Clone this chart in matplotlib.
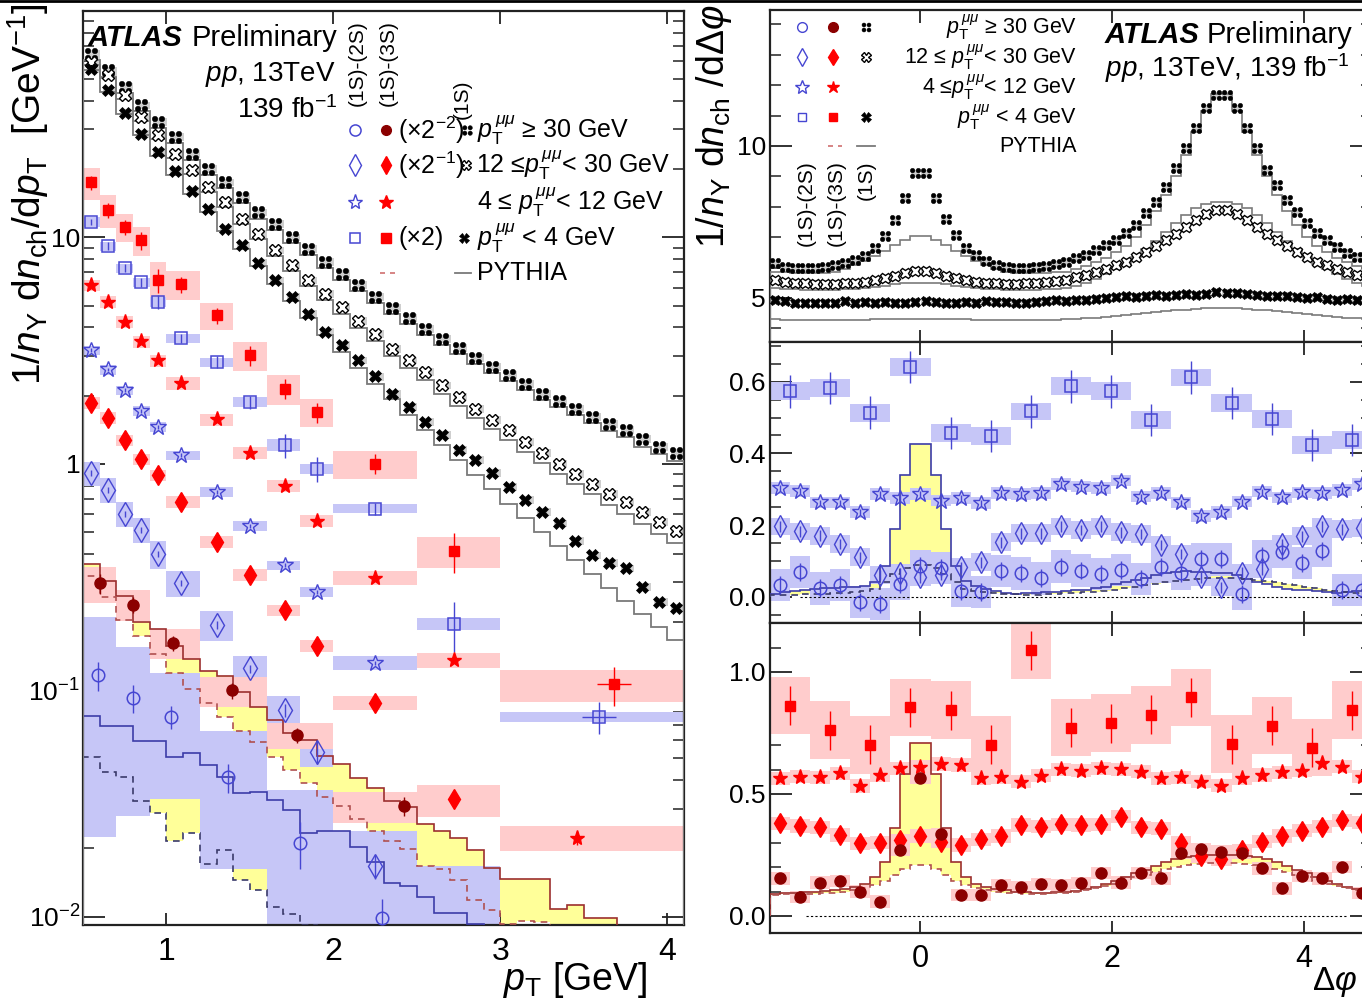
import numpy as np
import matplotlib
matplotlib.use('Agg')
import matplotlib.pyplot as plt
from matplotlib.path import Path
from matplotlib.lines import Line2D
from matplotlib.ticker import (FixedLocator, FixedFormatter, MultipleLocator,
                               NullFormatter, LogLocator, FormatStrFormatter)

plt.rcParams['font.family'] = ['Liberation Sans', 'DejaVu Sans']
plt.rcParams['mathtext.fontset'] = 'custom'
plt.rcParams['mathtext.rm'] = 'Liberation Sans'
plt.rcParams['mathtext.it'] = 'Liberation Sans:italic'
plt.rcParams['mathtext.bf'] = 'Liberation Sans:bold'

# ---------------- DATA: left panel (pT spectra) ----------------
pt_edges_fine = np.linspace(0.5, 4.1, 37)
hash_pt = [64.7, 54.6, 46.1, 38.3, 32.3, 27.7, 23.4, 20.1, 17.5, 15.1, 12.9, 11.5, 10.0, 8.92,
           7.78, 6.91, 6.14, 5.45, 4.87, 4.41, 3.95, 3.57, 3.26, 2.94, 2.68, 2.46, 2.26, 2.04,
           1.89, 1.75, 1.61, 1.50, 1.41, 1.29, 1.19, 1.12]
cross_pt = [59.4, 51.9, 42.4, 34.0, 28.2, 23.4, 19.9, 16.7, 14.3, 12.1, 10.4, 8.76, 7.52, 6.46,
            5.64, 4.92, 4.27, 3.76, 3.23, 2.86, 2.54, 2.22, 1.97, 1.75, 1.56, 1.41, 1.25, 1.12,
            1.00, 0.905, 0.818, 0.739, 0.678, 0.613, 0.553, 0.505]
bold_pt = [55.6, 44.6, 35.4, 28.7, 23.8, 19.6, 16.0, 13.3, 10.9, 9.22, 7.70, 6.46, 5.45, 4.60,
           3.82, 3.34, 2.86, 2.43, 2.04, 1.78, 1.53, 1.34, 1.15, 1.04, 0.911, 0.790, 0.690,
           0.613, 0.545, 0.456, 0.394, 0.365, 0.345, 0.286, 0.245, 0.230]
py_hash_pt = [60.8, 51.3, 43.3, 36.0, 30.4, 26.0, 22.0, 18.9, 16.5, 14.2, 12.1, 10.8, 9.4, 8.38,
              7.31, 6.5, 5.77, 5.12, 4.58, 4.15, 3.71, 3.36, 3.06, 2.76, 2.52, 2.31, 2.12, 1.92,
              1.78, 1.64, 1.51, 1.40, 1.31, 1.19, 1.10, 1.03]
py_cross_pt = [58.0, 50.4, 41.0, 32.8, 27.1, 22.4, 19.0, 15.9, 13.6, 11.5, 9.85, 8.27, 7.08, 6.07,
               5.28, 4.6, 3.98, 3.49, 2.99, 2.64, 2.34, 2.04, 1.8, 1.6, 1.42, 1.28, 1.13, 1.01,
               0.9, 0.812, 0.732, 0.66, 0.603, 0.543, 0.488, 0.445]
py_bold_pt = [55.0, 43.8, 35.0, 28.3, 23.0, 18.9, 15.6, 12.9, 10.7, 8.9, 7.45, 6.22, 5.22, 4.39,
              3.7, 3.13, 2.66, 2.26, 1.93, 1.65, 1.41, 1.21, 1.04, 0.895, 0.77, 0.665, 0.575,
              0.498, 0.432, 0.375, 0.326, 0.284, 0.248, 0.217, 0.19, 0.167]

pt_edges = [0.5, 0.6, 0.7, 0.8, 0.9, 1.0, 1.2, 1.4, 1.6, 1.8, 2.0, 2.5, 3.0, 4.5]
pt_mean = [0.55, 0.65, 0.75, 0.85, 0.95, 1.09, 1.30, 1.50, 1.71, 1.90, 2.25, 2.72]
sq_red_pt = [17.5, 13.2, 11.1, 9.70, 6.46, 6.20, 4.52, 3.01, 2.15, 1.69, 1.00, 0.411, 0.106]
sq_blue_pt = [11.68, 9.13, 7.30, 6.33, 5.18, 3.58, 2.81, 1.87, 1.21, 0.952, 0.634, 0.197, 0.0762]
st_red_pt = [6.14, 5.20, 4.23, 3.47, 2.86, 2.27, 1.57, 1.12, 0.796, 0.559, 0.313, 0.1357, 0.0223]
st_blue_pt = [3.17, 2.61, 2.11, 1.71, 1.45, 1.09, 0.751, 0.530, 0.356, 0.272, 0.132]
di_red_pt = [1.855, 1.593, 1.27, 1.047, 0.890, 0.678, 0.453, 0.323, 0.2255, 0.1564, 0.0882, 0.0329]
di_blue_pt = [0.911, 0.769, 0.603, 0.512, 0.398, 0.2977, 0.1936, 0.1247, 0.0816, 0.0534, 0.0167]
last_mean = {'sq_red': 3.68, 'sq_blue': 3.59, 'st_red': 3.46}

sq_red_syst = [0.16, 0.17, 0.14, 0.15, 0.2, 0.15, 0.14, 0.15, 0.15, 0.14, 0.14, 0.16, 0.16]
sq_blue_syst = [0.05, 0.05, 0.05, 0.05, 0.05, 0.05, 0.045, 0.05, 0.06, 0.05, 0.045, 0.06, 0.05]
st_red_syst = [0.06, 0.06, 0.06, 0.06, 0.06, 0.07, 0.06, 0.06, 0.06, 0.06, 0.07, 0.08, 0.13]
st_blue_syst = [0.05, 0.05, 0.05, 0.05, 0.05, 0.05, 0.05, 0.05, 0.05, 0.05, 0.07]
di_red_syst = [0.06, 0.06, 0.06, 0.06, 0.06, 0.06, 0.06, 0.06, 0.06, 0.06, 0.07, 0.16]
di_blue_syst = [0.12, 0.13, 0.13, 0.13, 0.14, 0.13, 0.15, 0.13, 0.15, 0.14, 0.10]
sq_red_stat = [0.07, 0.08, 0.08, 0.09, 0.12, 0.08, 0.08, 0.1, 0.1, 0.1, 0.1, 0.2, 0.2]
sq_blue_stat = [0.03, 0.04, 0.04, 0.05, 0.07, 0.05, 0.06, 0.07, 0.12, 0.13, 0.06, 0.25, 0.16]
st_red_stat = [0.02] * 12 + [0.07]
st_blue_stat = [0.02] * 11
di_red_stat = [0.02] * 12
di_blue_stat = [0.03, 0.03, 0.03, 0.03, 0.03, 0.03, 0.04, 0.04, 0.07, 0.12, 0.12]

ci_edges_red = [0.5, 0.7, 0.9, 1.2, 1.6, 2.0, 2.5]
ci_red_x = [0.60, 0.80, 1.04, 1.39, 1.78, 2.42]
ci_red_pt = [0.296, 0.239, 0.1617, 0.0997, 0.0633, 0.0308]
ci_red_syst = [0.054, 0.037, 0.025, 0.015, 0.0085, 0.0048]
ci_red_stat = [0.03, 0.02, 0.012, 0.008, 0.005, 0.003]
ci_edges_blue = [0.5, 0.7, 0.9, 1.2, 1.6, 2.0, 2.5, 3.0]
ci_blue_x = [0.59, 0.80, 1.03, 1.37, 1.80, 2.29, 2.75]
ci_blue_pt = [0.1165, 0.0919, 0.0762, 0.0412, 0.0212, 0.0099, 0.004]
ci_blue_syst = [0.094, 0.064, 0.043, 0.025, 0.015, 0.014, 0.0127]
ci_blue_stat = [0.017, 0.013, 0.009, 0.006, 0.005, 0.002, 0.002]

py_red_solid_pt = [0.36, 0.304, 0.26, 0.20, 0.186, 0.156, 0.137, 0.121, 0.115, 0.098, 0.084, 0.074,
                   0.065, 0.060, 0.0514, 0.0473, 0.041, 0.037, 0.0325, 0.0305, 0.0256, 0.024,
                   0.0223, 0.0197, 0.0164, 0.0147, 0.0147, 0.0147, 0.0108, 0.0112, 0.0099, 0.0099,
                   0.008, 0.008, 0.008, 0.008]
py_red_dash_pt = [0.32, 0.258, 0.204, 0.173, 0.1445, 0.119, 0.1016, 0.0874, 0.0762, 0.0661, 0.0592,
                  0.0508, 0.0442, 0.0389, 0.0337, 0.0307, 0.0269, 0.0238, 0.0215, 0.0198, 0.0167,
                  0.0162, 0.0145, 0.0118, 0.0107, 0.0093, 0.0096, 0.0095, 0.009, 0.008, 0.008,
                  0.008, 0.008, 0.008, 0.008, 0.008]
py_blue_solid_pt = [0.0767, 0.0694, 0.0694, 0.0597, 0.0597, 0.0508, 0.053, 0.0466, 0.0415, 0.035,
                    0.0355, 0.0327, 0.0295, 0.0233, 0.0238, 0.0238, 0.0203, 0.0175, 0.0141, 0.0136,
                    0.0122, 0.0104, 0.0104, 0.0093, 0.008, 0.008, 0.008, 0.008, 0.008, 0.008,
                    0.008, 0.008, 0.008, 0.008, 0.008, 0.008]
py_blue_dash_pt = [0.0508, 0.0435, 0.0415, 0.0325, 0.0286, 0.0215, 0.0233, 0.017, 0.0196, 0.0145,
                   0.0131, 0.011, 0.0103, 0.0092] + [0.008] * 22

# ---------------- DATA: right panels (delta phi) ----------------
hash_dphi = [6.14, 6.02, 5.99, 5.98, 5.98, 6.01, 6.07, 6.14, 6.24, 6.39, 6.63, 7.04, 7.58, 8.28,
             9.10, 9.10, 8.28, 7.59, 7.07, 6.63, 6.41, 6.23, 6.09, 6.03, 5.98, 5.98, 6.03, 6.05,
             6.12, 6.19,
             6.31, 6.41, 6.58, 6.74, 6.91, 7.13, 7.40, 7.79, 8.17, 8.66, 9.27, 9.92, 10.58, 11.24,
             11.68, 11.68, 11.24, 10.58, 9.92, 9.21, 8.72, 8.22, 7.84, 7.48, 7.15, 6.91, 6.69,
             6.49, 6.36, 6.25]
cross_dphi = [5.58, 5.53, 5.50, 5.48, 5.47, 5.47, 5.47, 5.48, 5.50, 5.53, 5.58, 5.65, 5.73, 5.82,
              5.90, 5.90, 5.82, 5.73, 5.65, 5.58, 5.53, 5.50, 5.48, 5.47, 5.47, 5.48, 5.50, 5.53,
              5.56, 5.60,
              5.68, 5.76, 5.85, 5.95, 6.07, 6.20, 6.35, 6.52, 6.70, 6.90, 7.10, 7.32, 7.55, 7.75,
              7.88, 7.88, 7.75, 7.55, 7.32, 7.10, 6.90, 6.70, 6.52, 6.35, 6.20, 6.07, 5.95, 5.85,
              5.76, 5.68]
bold_dphi = [4.95, 4.90, 4.82, 4.84, 4.83, 4.85, 4.84, 4.90, 4.83, 4.86, 4.84, 4.88, 4.85, 4.83,
             4.88, 4.90, 4.86, 4.84, 4.82, 4.88, 4.85, 4.90, 4.88, 4.86, 4.84, 4.85, 4.88, 4.90,
             4.92, 4.90, 4.93, 4.95, 4.98, 5.00, 5.02, 5.05, 5.04, 5.08, 5.10, 5.07, 5.10, 5.13,
             5.10, 5.12, 5.20, 5.18, 5.15, 5.12, 5.10, 5.06, 5.05, 5.08, 5.03, 5.00, 5.02, 4.98,
             4.95, 4.97, 4.93, 4.92]
py_hash_dphi = [5.87, 5.84, 5.82, 5.81, 5.81, 5.83, 5.87, 5.95, 6.07, 6.22, 6.38, 6.55, 6.74, 6.92,
                7.05, 7.05, 6.92, 6.74, 6.55, 6.38, 6.22, 6.07, 5.95, 5.87, 5.83, 5.81, 5.81, 5.82,
                5.84, 5.87,
                5.95, 6.05, 6.18, 6.33, 6.50, 6.72, 7.00, 7.40, 7.85, 8.40, 9.00, 9.70, 10.45, 11.15,
                11.72, 11.72, 11.15, 10.45, 9.70, 9.00, 8.40, 7.85, 7.40, 7.00, 6.72, 6.50, 6.33,
                6.18, 6.05, 5.95]
py_cross_dphi = [5.32, 5.30, 5.28, 5.27, 5.26, 5.26, 5.27, 5.28, 5.30, 5.33, 5.37, 5.41, 5.45, 5.48,
                 5.50, 5.50, 5.48, 5.45, 5.41, 5.37, 5.33, 5.30, 5.28, 5.27, 5.26, 5.26, 5.27, 5.28,
                 5.30, 5.34,
                 5.40, 5.50, 5.62, 5.78, 5.95, 6.13, 6.35, 6.60, 6.88, 7.17, 7.45, 7.72, 7.95, 8.10,
                 8.17, 8.17, 8.10, 7.95, 7.72, 7.45, 7.17, 6.88, 6.60, 6.35, 6.13, 5.95, 5.78, 5.62,
                 5.50, 5.40]
py_bold_dphi = [4.30, 4.29, 4.29, 4.28, 4.28, 4.28, 4.28, 4.28, 4.29, 4.29, 4.30, 4.30, 4.31, 4.31,
                4.32, 4.32, 4.31, 4.31, 4.30, 4.30, 4.29, 4.29, 4.28, 4.28, 4.28, 4.28, 4.28, 4.29,
                4.29, 4.30,
                4.31, 4.33, 4.35, 4.38, 4.41, 4.44, 4.47, 4.50, 4.53, 4.56, 4.59, 4.62, 4.64, 4.66,
                4.67, 4.67, 4.66, 4.64, 4.62, 4.59, 4.56, 4.53, 4.50, 4.47, 4.44, 4.41, 4.38, 4.35,
                4.33, 4.31]

sq_blue_dphi = [0.573, 0.582, 0.514, 0.641, 0.456, 0.449, 0.517, 0.587, 0.573, 0.493, 0.612, 0.540,
                0.495, 0.424, 0.438]
st_blue_dphi = [0.303, 0.295, 0.263, 0.263, 0.237, 0.286, 0.275, 0.287, 0.268, 0.275, 0.261, 0.289,
                0.287, 0.289, 0.314, 0.307, 0.304, 0.324, 0.279, 0.289, 0.263, 0.225, 0.237, 0.265,
                0.293, 0.277, 0.291, 0.289, 0.298, 0.315]
di_blue_dphi = [0.196, 0.182, 0.170, 0.147, 0.110, 0.0605, 0.065, 0.054, 0.0605, 0.082, 0.096, 0.152,
                0.177, 0.177, 0.196, 0.186, 0.196, 0.180, 0.175, 0.144, 0.119, 0.054, 0.026, 0.067,
                0.076, 0.146, 0.169, 0.196, 0.188, 0.191]
ci_blue_dphi = [0.033, 0.068, 0.023, 0.033, -0.014, -0.020, 0.035, 0.086, 0.079, 0.017, 0.012, 0.072,
                0.065, 0.051, 0.084, 0.073, 0.063, 0.074, 0.050, 0.082, 0.065, 0.104, 0.104, 0.007,
                0.114, 0.126, 0.093, 0.128, 0.019, 0.019]
py_blue_solid_dphi = [0.008, 0.012, 0.016, 0.02, 0.022, 0.024, 0.025, 0.026, 0.028, 0.03, 0.04, 0.085,
                      0.19, 0.34, 0.425, 0.425, 0.34, 0.19, 0.085, 0.045, 0.03, 0.022, 0.015, 0.01,
                      0.008, 0.009, 0.01, 0.012, 0.014, 0.016, 0.018, 0.02, 0.024, 0.028, 0.034,
                      0.04, 0.046, 0.053, 0.06, 0.065, 0.07, 0.072, 0.07, 0.068, 0.066, 0.066, 0.06,
                      0.05, 0.042, 0.035, 0.028, 0.022, 0.02, 0.018, 0.015, 0.012, 0.01, 0.012,
                      0.015, 0.018]
py_blue_dash_dphi = [0.004, 0.005, 0.006, 0.007, 0.008, 0.008, 0.009, 0.01, 0.012, 0.015, 0.022, 0.04,
                     0.062, 0.08, 0.088, 0.088, 0.08, 0.062, 0.04, 0.022, 0.015, 0.012, 0.01, 0.008,
                     0.007, 0.006, 0.006, 0.007, 0.008, 0.009, 0.01, 0.012, 0.014, 0.017, 0.02,
                     0.024, 0.028, 0.032, 0.036, 0.04, 0.044, 0.047, 0.05, 0.052, 0.053, 0.053,
                     0.052, 0.05, 0.047, 0.044, 0.04, 0.036, 0.032, 0.028, 0.024, 0.02, 0.016,
                     0.012, 0.009, 0.006]

sq_red_dphi = [0.862, 0.762, 0.701, 0.855, 0.844, 0.701, 1.090, 0.772, 0.790, 0.824, 0.896, 0.704,
               0.780, 0.690, 0.844]
st_red_dphi = [0.564, 0.571, 0.568, 0.585, 0.533, 0.578, 0.605, 0.612, 0.623, 0.619, 0.564, 0.568,
               0.551, 0.575, 0.602, 0.596, 0.605, 0.601, 0.592, 0.564, 0.568, 0.551, 0.534, 0.564,
               0.578, 0.589, 0.596, 0.626, 0.612, 0.571]
di_red_dphi = [0.380, 0.369, 0.363, 0.332, 0.298, 0.301, 0.311, 0.328, 0.305, 0.291, 0.314, 0.328,
               0.373, 0.366, 0.376, 0.373, 0.376, 0.407, 0.363, 0.357, 0.301, 0.246, 0.232, 0.270,
               0.305, 0.328, 0.350, 0.366, 0.393, 0.383]
ci_red_dphi = [0.154, 0.079, 0.137, 0.145, 0.100, 0.059, 0.270, 0.564, 0.335, 0.086, 0.086, 0.127,
               0.120, 0.130, 0.127, 0.134, 0.175, 0.137, 0.175, 0.154, 0.257, 0.273, 0.264, 0.257,
               0.195, 0.113, 0.165, 0.154, 0.202, 0.093]
py_red_solid_dphi = [0.092, 0.094, 0.095, 0.097, 0.1, 0.102, 0.105, 0.11, 0.118, 0.13, 0.16, 0.22,
                     0.36, 0.58, 0.71, 0.71, 0.58, 0.36, 0.22, 0.16, 0.13, 0.118, 0.11, 0.105, 0.1,
                     0.097, 0.095, 0.096, 0.098, 0.1, 0.104, 0.11, 0.12, 0.13, 0.145, 0.16, 0.175,
                     0.19, 0.205, 0.22, 0.232, 0.24, 0.245, 0.248, 0.25, 0.25, 0.248, 0.245, 0.24,
                     0.232, 0.22, 0.205, 0.19, 0.175, 0.16, 0.145, 0.13, 0.12, 0.11, 0.104]
py_red_dash_dphi = [0.088, 0.089, 0.09, 0.091, 0.092, 0.094, 0.096, 0.1, 0.105, 0.113, 0.125, 0.145,
                    0.17, 0.193, 0.207, 0.207, 0.193, 0.17, 0.145, 0.125, 0.113, 0.105, 0.1, 0.096,
                    0.093, 0.091, 0.09, 0.091, 0.093, 0.096, 0.1, 0.105, 0.113, 0.122, 0.133, 0.145,
                    0.158, 0.17, 0.182, 0.193, 0.202, 0.209, 0.214, 0.217, 0.218, 0.218, 0.217,
                    0.214, 0.209, 0.202, 0.193, 0.182, 0.17, 0.158, 0.145, 0.133, 0.122, 0.113,
                    0.105, 0.1]

# uncertainties (syst half height, stat) of the dphi points
unc_dphi = {'sq_blue': (0.025, 0.045), 'st_blue': (0.016, 0.008), 'di_blue': (0.025, 0.015),
            'ci_blue': (0.045, 0.025), 'sq_red': (0.118, 0.08), 'st_red': (0.027, 0.01),
            'di_red': (0.027, 0.01), 'ci_red': (0.025, 0.01)}

# ---------------- styles ----------------
BLUE = '#4646d2'
BLUEBOX = '#c6c6f7'
RED = '#ff0000'
DRED = '#8b0000'
PINK = '#ffcccc'
YELLOW = '#ffff99'
GBOX = '#cfcfcf'
PYGRAY = '#7a7a7a'
PYBLUE = '#3c3ca8'
PYRED = '#9c2f2f'

FOUR = Path.make_compound_path(Path.circle((-0.5, -0.5), 0.4), Path.circle((0.5, -0.5), 0.4),
                               Path.circle((-0.5, 0.5), 0.4), Path.circle((0.5, 0.5), 0.4))
M_HASH = dict(marker=FOUR, color='k', mec='k', mfc='k', mew=0.3)
M_CROSS = dict(marker='X', mec='k', mfc='white', mew=1.0)
M_BOLD = dict(marker='X', mec='k', mfc='k', mew=0.5)

W, H = 1362, 1002
fig = plt.figure(figsize=(W / 100, H / 100), dpi=100)

def fr(x0, y0, x1, y1):
    return [x0 / W, 1 - y1 / H, (x1 - x0) / W, (y1 - y0) / H]

axL = fig.add_axes(fr(83, 11, 684, 925))
axT = fig.add_axes(fr(770, 10, 1372, 342))
axM = fig.add_axes(fr(770, 342, 1372, 623))
axB = fig.add_axes(fr(770, 623, 1372, 933))

for ax in (axL, axT, axM, axB):
    for s in ax.spines.values():
        s.set_linewidth(1.6)
        s.set_color('#222222')
    ax.tick_params(which='both', direction='in', top=True, right=True, colors='#222222')
    ax.tick_params(which='major', length=13, width=1.3, labelcolor='black')
    ax.tick_params(which='minor', length=6.5, width=1.1)

# ================= LEFT PANEL =================
ax = axL
ax.set_yscale('log')
ax.set_xlim(0.5, 4.1)
ax.set_ylim(0.00918, 100)
pt_fine = 0.5 * (pt_edges_fine[1:] + pt_edges_fine[:-1])

ax.stairs(py_red_solid_pt, pt_edges_fine, baseline=py_red_dash_pt, fill=True, color=YELLOW, zorder=1)
ax.stairs(py_blue_solid_pt, pt_edges_fine, baseline=py_blue_dash_pt, fill=True, color=YELLOW, zorder=1)

def colored_pt(x, v, edges, syst, stat, mkw, boxc, ecol, relative=True, xerr=None):
    v = np.asarray(v, float)
    syst = np.asarray(syst, float) * (v if relative else 1.0)
    stat = np.asarray(stat, float) * (v if relative else 1.0)
    e = np.asarray(edges[:len(v) + 1], float)
    lo = np.maximum(v - syst, 1e-5)
    ax.bar(e[:-1], v + syst - lo, bottom=lo, width=np.diff(e), align='edge', color=boxc, lw=0, zorder=2)
    ax.errorbar(x, v, yerr=[np.minimum(stat, v - 1e-5), stat], xerr=xerr, fmt='none',
                ecolor=ecol, elinewidth=1.0, zorder=4)
    ax.plot(x, v, ls='none', zorder=5, **mkw)

def xs(n, key=None):
    xx = list(pt_mean[:n])
    if key is not None and n == 13:
        xx.append(last_mean[key])
    return xx

xerr_last = [0] * 12 + [0.1]
colored_pt(xs(13, 'sq_red'), sq_red_pt, pt_edges, sq_red_syst, sq_red_stat,
           dict(marker='s', ms=7, mfc=RED, mec=RED), PINK, RED, xerr=xerr_last)
colored_pt(xs(13, 'sq_blue'), sq_blue_pt, pt_edges, sq_blue_syst, sq_blue_stat,
           dict(marker='s', ms=8, mfc='none', mec=BLUE, mew=1.1), BLUEBOX, BLUE, xerr=xerr_last)
colored_pt(xs(13, 'st_red'), st_red_pt, pt_edges, st_red_syst, st_red_stat,
           dict(marker='*', ms=11, mfc=RED, mec=RED), PINK, RED)
colored_pt(xs(11), st_blue_pt, pt_edges, st_blue_syst, st_blue_stat,
           dict(marker='*', ms=12, mfc='none', mec=BLUE, mew=1.0), BLUEBOX, BLUE)
colored_pt(xs(12), di_red_pt, pt_edges, di_red_syst, di_red_stat,
           dict(marker='d', ms=10, mfc=RED, mec=RED), PINK, RED)
colored_pt(xs(11), di_blue_pt, pt_edges, di_blue_syst, di_blue_stat,
           dict(marker='d', ms=12, mfc='none', mec=BLUE, mew=1.0), BLUEBOX, BLUE)
colored_pt(ci_blue_x, ci_blue_pt, ci_edges_blue, ci_blue_syst, ci_blue_stat,
           dict(marker='o', ms=9, mfc='none', mec=BLUE, mew=1.1), BLUEBOX, BLUE, relative=False)
colored_pt(ci_red_x, ci_red_pt, ci_edges_red, ci_red_syst, ci_red_stat,
           dict(marker='o', ms=8, mfc=DRED, mec=DRED), PINK, DRED, relative=False)

ax.stairs(py_red_solid_pt, pt_edges_fine, color=PYRED, lw=1.2, zorder=3)
ax.stairs(py_red_dash_pt, pt_edges_fine, color='#b05050', lw=1.2, ls=(0, (4, 3)), zorder=3)
ax.stairs(py_blue_solid_pt, pt_edges_fine, color=PYBLUE, lw=1.2, zorder=3)
ax.stairs(py_blue_dash_pt, pt_edges_fine, color='#3a3a6a', lw=1.2, ls=(0, (4, 3)), zorder=3)

for vals, pyv, mk, msz in ((hash_pt, py_hash_pt, M_HASH, 9), (cross_pt, py_cross_pt, M_CROSS, 8),
                           (bold_pt, py_bold_pt, M_BOLD, 8)):
    v = np.asarray(vals)
    ax.bar(pt_fine + 0.012, 0.08 * v, bottom=0.96 * v, width=0.08, color=GBOX, lw=0, zorder=2)
    ax.stairs(pyv, pt_edges_fine, color=PYGRAY, lw=1.3, zorder=3)
    ax.plot(pt_fine, v, ls='none', ms=msz, zorder=5, **mk)

ax.yaxis.set_major_locator(FixedLocator([0.01, 0.1, 1, 10]))
ax.yaxis.set_major_formatter(FixedFormatter([r'$10^{-2}$', r'$10^{-1}$', '1', '10']))
ax.yaxis.set_minor_locator(LogLocator(base=10, subs=np.arange(2, 10)))
ax.yaxis.set_minor_formatter(NullFormatter())
ax.xaxis.set_major_locator(FixedLocator([1, 2, 3, 4]))
ax.tick_params(axis='y', which='major', labelsize=19, pad=2, length=16)
ax.tick_params(axis='y', which='minor', length=8)
ax.tick_params(axis='x', which='major', labelsize=23, pad=9, length=9)

# ================= RIGHT PANELS =================
dphi_fine = np.linspace(-np.pi / 2, 3 * np.pi / 2, 61)
dphi30 = np.linspace(-np.pi / 2, 3 * np.pi / 2, 31)
dphi15 = np.linspace(-np.pi / 2, 3 * np.pi / 2, 16)
c60 = 0.5 * (dphi_fine[1:] + dphi_fine[:-1])
c30 = 0.5 * (dphi30[1:] + dphi30[:-1])
c15 = 0.5 * (dphi15[1:] + dphi15[:-1])

ax = axT
ax.set_xlim(-np.pi / 2, 3 * np.pi / 2)
ax.set_ylim(3.553, 14.47)
for vals, pyv, mk in ((hash_dphi, py_hash_dphi, M_HASH), (cross_dphi, py_cross_dphi, M_CROSS),
                      (bold_dphi, py_bold_dphi, M_BOLD)):
    v = np.asarray(vals)
    ax.bar(c60, 0.22, bottom=v - 0.11, width=0.095, color=GBOX, lw=0, zorder=2)
    ax.stairs(pyv, dphi_fine, color=PYGRAY, lw=1.2, zorder=3)
    ax.plot(c60, v, ls='none', ms=7.5, zorder=5, **mk)
ax.yaxis.set_major_locator(FixedLocator([5, 10]))
ax.yaxis.set_minor_locator(MultipleLocator(1))
ax.xaxis.set_major_locator(FixedLocator([0, 2, 4]))
ax.tick_params(axis='x', labelbottom=False, length=9)
ax.tick_params(axis='y', which='major', labelsize=19, pad=3, length=16)
ax.tick_params(axis='y', which='minor', length=8)

def colored_dphi(ax, x, v, edges, key, mkw, boxc, ecol):
    v = np.asarray(v, float)
    s, st = unc_dphi[key]
    ax.bar(edges[:-1], 2 * s, bottom=v - s, width=np.diff(edges), align='edge', color=boxc, lw=0, zorder=2)
    ax.errorbar(x, v, yerr=st, fmt='none', ecolor=ecol, elinewidth=1.0, zorder=4)
    ax.plot(x, v, ls='none', zorder=5, **mkw)

ax = axM
ax.set_xlim(-np.pi / 2, 3 * np.pi / 2)
ax.set_ylim(-0.0735, 0.711)
ax.stairs(py_blue_solid_dphi, dphi_fine, baseline=py_blue_dash_dphi, fill=True, color=YELLOW, zorder=1)
colored_dphi(ax, c15, sq_blue_dphi, dphi15, 'sq_blue',
             dict(marker='s', ms=8, mfc='none', mec=BLUE, mew=1.1), BLUEBOX, BLUE)
colored_dphi(ax, c30, st_blue_dphi, dphi30, 'st_blue',
             dict(marker='*', ms=12, mfc='none', mec=BLUE, mew=1.0), BLUEBOX, BLUE)
colored_dphi(ax, c30, di_blue_dphi, dphi30, 'di_blue',
             dict(marker='d', ms=11, mfc='none', mec=BLUE, mew=1.0), BLUEBOX, BLUE)
colored_dphi(ax, c30, ci_blue_dphi, dphi30, 'ci_blue',
             dict(marker='o', ms=9, mfc='none', mec=BLUE, mew=1.1), BLUEBOX, BLUE)
ax.stairs(py_blue_solid_dphi, dphi_fine, color=PYBLUE, lw=1.2, zorder=3)
ax.stairs(py_blue_dash_dphi, dphi_fine, color='#3a3a6a', lw=1.2, ls=(0, (4, 3)), zorder=3)
ax.axhline(0, xmin=0.05, xmax=0.99, color='k', lw=0.8, ls=(0, (2, 2)), zorder=3)
ax.yaxis.set_major_locator(FixedLocator([0.0, 0.2, 0.4, 0.6]))
ax.yaxis.set_major_formatter(FormatStrFormatter('%.1f'))
ax.yaxis.set_minor_locator(MultipleLocator(0.05))
ax.xaxis.set_major_locator(FixedLocator([0, 2, 4]))
ax.tick_params(axis='x', labelbottom=False, length=9)
ax.tick_params(axis='y', which='major', labelsize=19, pad=3, length=16)
ax.tick_params(axis='y', which='minor', length=8)

ax = axB
ax.set_xlim(-np.pi / 2, 3 * np.pi / 2)
ax.set_ylim(-0.0697, 1.2008)
ax.stairs(py_red_solid_dphi, dphi_fine, baseline=py_red_dash_dphi, fill=True, color=YELLOW, zorder=1)
colored_dphi(ax, c15, sq_red_dphi, dphi15, 'sq_red',
             dict(marker='s', ms=7, mfc=RED, mec=RED), PINK, RED)
colored_dphi(ax, c30, st_red_dphi, dphi30, 'st_red',
             dict(marker='*', ms=11, mfc=RED, mec=RED), PINK, RED)
colored_dphi(ax, c30, di_red_dphi, dphi30, 'di_red',
             dict(marker='d', ms=10, mfc=RED, mec=RED), PINK, RED)
colored_dphi(ax, c30, ci_red_dphi, dphi30, 'ci_red',
             dict(marker='o', ms=8, mfc=DRED, mec=DRED), PINK, DRED)
ax.stairs(py_red_solid_dphi, dphi_fine, color=PYRED, lw=1.2, zorder=3)
ax.stairs(py_red_dash_dphi, dphi_fine, color='#b05050', lw=1.2, ls=(0, (4, 3)), zorder=3)
ax.axhline(0, xmin=0.06, xmax=0.96, color='k', lw=0.8, ls=(0, (2, 2)), zorder=3)
ax.yaxis.set_major_locator(FixedLocator([0.0, 0.5, 1.0]))
ax.yaxis.set_major_formatter(FormatStrFormatter('%.1f'))
ax.yaxis.set_minor_locator(MultipleLocator(0.1))
ax.xaxis.set_major_locator(FixedLocator([0, 2, 4]))
ax.xaxis.set_major_formatter(FixedFormatter(['0', '2', '4']))
ax.tick_params(axis='x', labelsize=22, pad=8, length=9)
ax.tick_params(axis='y', which='major', labelsize=19, pad=3, length=16)
ax.tick_params(axis='y', which='minor', length=8)

# ================= TEXTS / LEGENDS =================
def ftext(px, py, s, **kw):
    fig.text(px / W, 1 - py / H, s, **kw)

def fmark(px, py, **kw):
    fig.add_artist(Line2D([px / W], [1 - py / H], transform=fig.transFigure, ls='none', **kw))

def fline(x0, x1, py, **kw):
    fig.add_artist(Line2D([x0 / W, x1 / W], [1 - py / H, 1 - py / H], transform=fig.transFigure, **kw))

fline(0, W, 1.0, color='k', lw=2)

PT = r'$p_{\mathrm{T}}^{\,\mu\mu}$'
# axis labels
ftext(28, 4, r'$1/n_{\Upsilon}\ \mathrm{d}n_{\mathrm{ch}}/\mathrm{d}p_{\mathrm{T}}\ \ [\mathrm{GeV}^{-1}]$',
      rotation=90, ha='center', va='top', fontsize=28)
ftext(714, 4, r'$1/n_{\Upsilon}\ \mathrm{d}n_{\mathrm{ch}}\ /\mathrm{d}\mathit{\Delta}\varphi$',
      rotation=90, ha='center', va='top', fontsize=27)
ftext(648, 1000, r'$p_{\mathrm{T}}$ [GeV]', ha='right', va='bottom', fontsize=27)
ftext(1357, 999, r'$\mathit{\Delta}\varphi$', ha='right', va='bottom', fontsize=24)

# left panel header
ftext(88, 46, 'ATLAS', fontsize=21, weight='bold', style='italic', va='baseline')
ftext(192, 46, 'Preliminary', fontsize=21, va='baseline')
ftext(336, 81, r'$pp$, 13TeV', fontsize=20, ha='right', va='baseline')
ftext(338, 118, r'139 fb$^{-1}$', fontsize=20, ha='right', va='baseline')
ftext(357, 106, '(1S)-(2S)', rotation=90, ha='center', va='bottom', fontsize=15)
ftext(388, 106, '(1S)-(3S)', rotation=90, ha='center', va='bottom', fontsize=15)
ftext(462, 119, '(1S)', rotation=90, ha='center', va='bottom', fontsize=15)

rowsL = [130, 165, 202, 238, 273]
LF = 18
fmark(355, rowsL[0], marker='o', ms=8, mfc='none', mec=BLUE, mew=1.1)
fmark(386, rowsL[0], marker='o', ms=7, mfc=DRED, mec=DRED)
ftext(398, rowsL[0], r'(×2$^{-2}$)', fontsize=LF, va='center')
fmark(467, rowsL[0], ms=7, **M_HASH)
ftext(477, rowsL[0], PT + ' ≥ 30 GeV', fontsize=LF, va='center')
fmark(355, rowsL[1], marker='d', ms=11, mfc='none', mec=BLUE, mew=1.0)
fmark(386, rowsL[1], marker='d', ms=9, mfc=RED, mec=RED)
ftext(398, rowsL[1], r'(×2$^{-1}$)', fontsize=LF, va='center')
fmark(466, rowsL[1], ms=7, **M_CROSS)
ftext(476, rowsL[1], '12 ≤' + PT + '< 30 GeV', fontsize=LF, va='center')
fmark(355, rowsL[2], marker='*', ms=11, mfc='none', mec=BLUE, mew=1.0)
fmark(386, rowsL[2], marker='*', ms=10, mfc=RED, mec=RED)
ftext(477, rowsL[2], '4 ≤ ' + PT + '< 12 GeV', fontsize=LF, va='center')
fmark(355, rowsL[3], marker='s', ms=7, mfc='none', mec=BLUE, mew=1.1)
fmark(386, rowsL[3], marker='s', ms=7, mfc=RED, mec=RED)
ftext(398, rowsL[3], '(×2)', fontsize=LF, va='center')
fmark(464, rowsL[3], ms=7, **M_BOLD)
ftext(477, rowsL[3], PT + ' < 4 GeV', fontsize=LF, va='center')
fline(380, 397, rowsL[4], color='#d07070', lw=1.2, ls=(0, (3, 3)))
fline(455, 471, rowsL[4], color=PYGRAY, lw=1.3)
ftext(477, rowsL[4], 'PYTHIA', fontsize=LF, va='center')

# right panel header / legend
ftext(1105, 43, 'ATLAS', fontsize=21, weight='bold', style='italic', va='baseline')
ftext(1207, 43, 'Preliminary', fontsize=21, va='baseline')
ftext(1105, 77, r'$pp$, 13TeV, 139 fb$^{-1}$', fontsize=20, va='baseline')
rowsR = [27, 57, 87, 117, 146]
RF = 15.5
fmark(802, rowsR[0], marker='o', ms=7, mfc='none', mec=BLUE, mew=1.0)
fmark(833, rowsR[0], marker='o', ms=7, mfc=DRED, mec=DRED)
fmark(866, rowsR[0], ms=6.5, **M_HASH)
ftext(1077, rowsR[0], PT + ' ≥ 30 GeV', fontsize=RF, va='center', ha='right')
fmark(802, rowsR[1], marker='d', ms=9, mfc='none', mec=BLUE, mew=1.0)
fmark(833, rowsR[1], marker='d', ms=8, mfc=RED, mec=RED)
fmark(866, rowsR[1], ms=6.5, **M_CROSS)
ftext(1077, rowsR[1], '12 ≤ ' + PT + '< 30 GeV', fontsize=RF, va='center', ha='right')
fmark(802, rowsR[2], marker='*', ms=10, mfc='none', mec=BLUE, mew=1.0)
fmark(833, rowsR[2], marker='*', ms=9, mfc=RED, mec=RED)
ftext(1077, rowsR[2], '4 ≤' + PT + '< 12 GeV', fontsize=RF, va='center', ha='right')
fmark(802, rowsR[3], marker='s', ms=6, mfc='none', mec=BLUE, mew=1.0)
fmark(833, rowsR[3], marker='s', ms=6, mfc=RED, mec=RED)
fmark(866, rowsR[3], ms=6.5, **M_BOLD)
ftext(1077, rowsR[3], PT + ' < 4 GeV', fontsize=RF, va='center', ha='right')
fline(828, 842, rowsR[4], color='#d07070', lw=1.2, ls=(0, (3, 3)))
fline(857, 875, rowsR[4], color=PYGRAY, lw=1.3)
ftext(1077, rowsR[4], 'PYTHIA', fontsize=RF, va='center', ha='right')
ftext(806, 246, '(1S)-(2S)', rotation=90, ha='center', va='bottom', fontsize=15)
ftext(836, 246, '(1S)-(3S)', rotation=90, ha='center', va='bottom', fontsize=15)
ftext(866, 200, '(1S)', rotation=90, ha='center', va='bottom', fontsize=15)

fig.savefig('out.png', dpi=100)
